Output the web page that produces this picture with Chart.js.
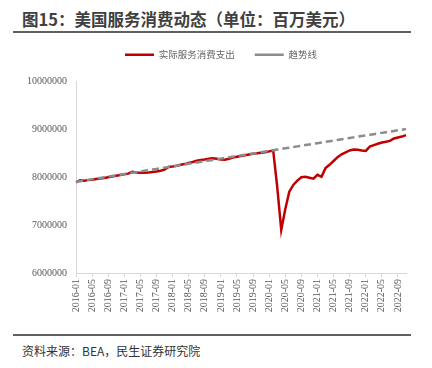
<!DOCTYPE html>
<html>
<head>
<meta charset="utf-8">
<script src="https://cdn.jsdelivr.net/npm/chart.js@4.4.0/dist/chart.umd.min.js"></script>
<style>
  body { margin: 0; width: 432px; height: 368px; background: #fff; position: relative; overflow: hidden; font-family: "Noto Sans CJK SC", sans-serif; }
  #title { position: absolute; left: 22px; top: 8px; font-size: 16.5px; font-weight: bold; color: #404040; line-height: 22px; white-space: nowrap; }
  .rule { position: absolute; left: 13px; width: 398px; height: 2px; background: #606060; }
  #source { position: absolute; left: 22px; top: 343px; font-size: 12px; color: #333; line-height: 16px; white-space: nowrap; }
  #wrap { position: absolute; left: 0; top: 30px; width: 432px; height: 304px; }
</style>
</head>
<body>
<div id="title">图15：美国服务消费动态（单位：百万美元）</div>
<div class="rule" style="top:31px"></div>
<div id="wrap"><canvas id="servicesChart" width="432" height="304"></canvas></div>
<div class="rule" style="top:334px"></div>
<div id="source">资料来源：BEA，民生证券研究院</div>
<script>
// monthly categories 2016-01 .. 2022-11
const startYear = 2016;
const monthCount = 83;
const tickEvery = 4;
const months = [];
for (let i = 0; i < monthCount; i++) {
    const y = startYear + Math.floor(i / 12);
    const m = (i % 12) + 1;
    months.push(y + '-' + (m < 10 ? '0' + m : m));
}

const actualSpending = [
    7895000, 7935000, 7925000, 7940000, 7950000, 7965000, 7975000, 7985000, 8000000, 8015000, 8030000, 8045000,
    8060000, 8075000, 8115000, 8100000, 8095000, 8095000, 8100000, 8110000, 8120000, 8135000, 8160000, 8215000,
    8225000, 8240000, 8260000, 8275000, 8300000, 8320000, 8345000, 8360000, 8370000, 8385000, 8395000, 8385000,
    8370000, 8365000, 8385000, 8410000, 8430000, 8445000, 8460000, 8475000, 8490000, 8500000, 8510000, 8520000,
    8540000, 8560000, 7800000, 6900000, 7330000, 7700000, 7840000, 7930000, 8000000, 8010000, 7990000, 7970000,
    8050000, 8010000, 8190000, 8260000, 8340000, 8420000, 8480000, 8520000, 8560000, 8580000, 8575000, 8560000,
    8550000, 8640000, 8670000, 8700000, 8725000, 8740000, 8760000, 8810000, 8830000, 8850000, 8880000
];

// pre-covid trend line
const trendLine = [
    7905000, 7918000, 7932000, 7945000, 7959000, 7972000, 7986000, 7999000, 8013000, 8026000, 8040000, 8053000,
    8066000, 8080000, 8093000, 8107000, 8120000, 8134000, 8147000, 8161000, 8174000, 8187000, 8201000, 8214000,
    8228000, 8241000, 8255000, 8268000, 8282000, 8295000, 8309000, 8322000, 8335000, 8349000, 8362000, 8376000,
    8389000, 8403000, 8416000, 8430000, 8443000, 8456000, 8470000, 8483000, 8497000, 8510000, 8524000, 8537000,
    8551000, 8564000, 8578000, 8591000, 8604000, 8618000, 8631000, 8645000, 8658000, 8672000, 8685000, 8699000,
    8712000, 8725000, 8739000, 8752000, 8766000, 8779000, 8793000, 8806000, 8820000, 8833000, 8847000, 8860000,
    8873000, 8887000, 8900000, 8914000, 8927000, 8941000, 8954000, 8968000, 8981000, 8994000, 9008000
];

const yMin = 6000000;
const yMax = 10000000;
const yStep = 1000000;

const axisGrey = '#d9d9d9';
const textGrey = '#595959';

// extra room under the legend, and nudge it right like the original
const legendTweak = {
    id: 'legendTweak',
    beforeInit(chart) {
        const origFit = chart.legend.fit;
        chart.legend.fit = function () {
            origFit.bind(chart.legend)();
            this.height += 12;
        };
    },
    afterLayout(chart) {
        chart.legend.left += 18;
        chart.legend.right += 18;
    }
};

const ctx = document.getElementById('servicesChart').getContext('2d');
new Chart(ctx, {
    type: 'line',
    data: {
        labels: months,
        datasets: [
            {
                label: '实际服务消费支出',
                data: actualSpending,
                borderColor: '#c00000',
                backgroundColor: '#c00000',
                borderWidth: 2.5,
                pointRadius: 0,
                tension: 0,
                order: 1
            },
            {
                label: '趋势线',
                data: trendLine,
                borderColor: '#8c8c8c',
                backgroundColor: '#8c8c8c',
                borderWidth: 2.5,
                borderDash: [7, 4],
                pointRadius: 0,
                tension: 0,
                order: 0
            }
        ]
    },
    options: {
        responsive: false,
        animation: false,
        devicePixelRatio: 1,
        layout: { padding: { left: 0, right: 26, top: 0, bottom: 0 } },
        scales: {
            x: {
                offset: false,
                grid: { drawOnChartArea: false, drawTicks: true, tickLength: 4, color: axisGrey },
                border: { display: true, color: axisGrey, width: 1 },
                ticks: {
                    autoSkip: false,
                    maxRotation: 90,
                    minRotation: 90,
                    padding: 2,
                    color: textGrey,
                    font: { family: '"Liberation Serif", serif', size: 10 },
                    callback: function (value, index) {
                        return index % tickEvery === 0 ? months[index] : null;
                    }
                },
                afterFit: function (scale) { scale.height = 61; }
            },
            y: {
                min: yMin,
                max: yMax,
                grid: { display: false, drawTicks: false },
                border: { display: true, color: axisGrey, width: 1 },
                ticks: {
                    stepSize: yStep,
                    padding: 9,
                    color: textGrey,
                    font: { family: '"Liberation Serif", serif', size: 10 },
                    callback: function (value) { return String(value); }
                },
                afterFit: function (scale) { scale.width = 76; }
            }
        },
        plugins: {
            legend: {
                display: true,
                position: 'top',
                reverse: true,
                labels: {
                    usePointStyle: true,
                    pointStyle: 'line',
                    pointStyleWidth: 29,
                    padding: 20,
                    color: '#666666',
                    font: { family: '"Noto Sans CJK SC", sans-serif', size: 9.5 }
                }
            },
            tooltip: { enabled: false }
        }
    },
    plugins: [legendTweak]
});
</script>
</body>
</html>
